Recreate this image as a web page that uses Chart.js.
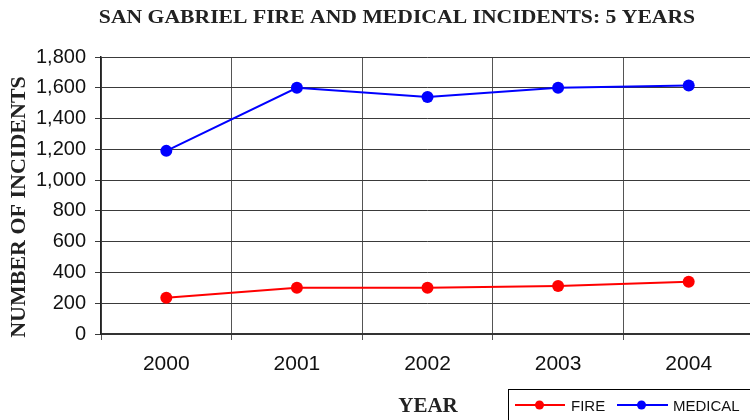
<!DOCTYPE html>
<html>
<head>
<meta charset="utf-8">
<script src="https://cdn.jsdelivr.net/npm/chart.js@4.4.1/dist/chart.umd.min.js"></script>
<style>
  html, body { margin: 0; padding: 0; background: #fff; overflow: hidden; }
  #wrap { width: 760px; height: 420px; }
</style>
</head>
<body>
<div id="wrap"><canvas id="c" width="760" height="420"></canvas></div>
<script>
const chartTitle = 'SAN GABRIEL FIRE AND MEDICAL INCIDENTS: 5 YEARS';
const yAxisTitle = 'NUMBER OF INCIDENTS';
const xAxisTitle = 'YEAR';
const years = ['2000', '2001', '2002', '2003', '2004'];
const fireValues = [235, 300, 300, 312, 340];
const medicalValues = [1190, 1600, 1540, 1600, 1615];
const yMin = 0, yMax = 1800, yStep = 200;

const decorPlugin = {
  id: 'decor',
  afterDraw(chart) {
    const ctx = chart.ctx;
    ctx.save();
    // main title (slightly widened to match the reference's letter spacing)
    ctx.fillStyle = '#222';
    ctx.font = 'bold 19px "Liberation Serif", "Times New Roman", serif';
    ctx.textAlign = 'center';
    ctx.textBaseline = 'alphabetic';
    ctx.save();
    ctx.translate(397, 23);
    ctx.scale(1.14, 1);
    ctx.fillText(chartTitle, 0, 0);
    ctx.restore();
    // y axis title
    ctx.save();
    ctx.font = 'bold 22px "Liberation Serif", "Times New Roman", serif';
    ctx.translate(25, 207);
    ctx.rotate(-Math.PI / 2);
    ctx.fillText(yAxisTitle, 0, 0);
    ctx.restore();
    // x axis title
    ctx.font = 'bold 21px "Liberation Serif", "Times New Roman", serif';
    ctx.fillText(xAxisTitle, 428, 411.5);
    // legend box
    ctx.strokeStyle = '#000';
    ctx.lineWidth = 1;
    ctx.strokeRect(508.5, 389.5, 300, 60);
    const items = chart.data.datasets.map(d => ({ label: d.label, color: d.borderColor }));
    const pos = [{ x0: 515, x1: 565, dot: 539.5, tx: 571 }, { x0: 617, x1: 668, dot: 641.5, tx: 673 }];
    ctx.font = '15px "Liberation Sans", Arial, sans-serif';
    ctx.textAlign = 'left';
    items.forEach((it, i) => {
      const p = pos[i];
      ctx.strokeStyle = it.color;
      ctx.lineWidth = 2;
      ctx.beginPath();
      ctx.moveTo(p.x0, 405);
      ctx.lineTo(p.x1, 405);
      ctx.stroke();
      ctx.fillStyle = it.color;
      ctx.beginPath();
      ctx.arc(p.dot, 405, 4.5, 0, Math.PI * 2);
      ctx.fill();
      ctx.fillStyle = '#111';
      ctx.fillText(it.label, p.tx, 410.5);
    });
    ctx.restore();
  }
};

new Chart(document.getElementById('c'), {
  type: 'line',
  data: {
    labels: years,
    datasets: [
      {
        label: 'FIRE',
        data: fireValues,
        borderColor: '#FF0000',
        backgroundColor: '#FF0000',
        borderWidth: 2,
        pointRadius: 6,
        pointHoverRadius: 6,
        pointBorderWidth: 0,
        tension: 0
      },
      {
        label: 'MEDICAL',
        data: medicalValues,
        borderColor: '#0000FF',
        backgroundColor: '#0000FF',
        borderWidth: 2,
        pointRadius: 6,
        pointHoverRadius: 6,
        pointBorderWidth: 0,
        tension: 0
      }
    ]
  },
  options: {
    responsive: false,
    animation: false,
    locale: 'en-US',
    layout: { padding: { top: 57, right: 2, left: 0, bottom: 0 } },
    plugins: {
      legend: { display: false },
      title: { display: false },
      tooltip: { enabled: false }
    },
    scales: {
      x: {
        offset: true,
        grid: { offset: true, color: '#555', lineWidth: 1, tickLength: 6, drawOnChartArea: true },
        border: { color: '#333', width: 2 },
        ticks: {
          color: '#111',
          padding: 12,
          font: { family: '"Liberation Sans", Arial, sans-serif', size: 21 }
        },
        afterFit(scale) { scale.height = 86; }
      },
      y: {
        min: yMin,
        max: yMax,
        grid: { color: '#3a3a3a', lineWidth: 1, tickLength: 6 },
        border: { color: '#222', width: 1.5 },
        ticks: {
          stepSize: yStep,
          color: '#111',
          padding: 9,
          font: { family: '"Liberation Sans", Arial, sans-serif', size: 20 }
        },
        afterFit(scale) { scale.width = 101; }
      }
    }
  },
  plugins: [decorPlugin]
});
</script>
</body>
</html>
